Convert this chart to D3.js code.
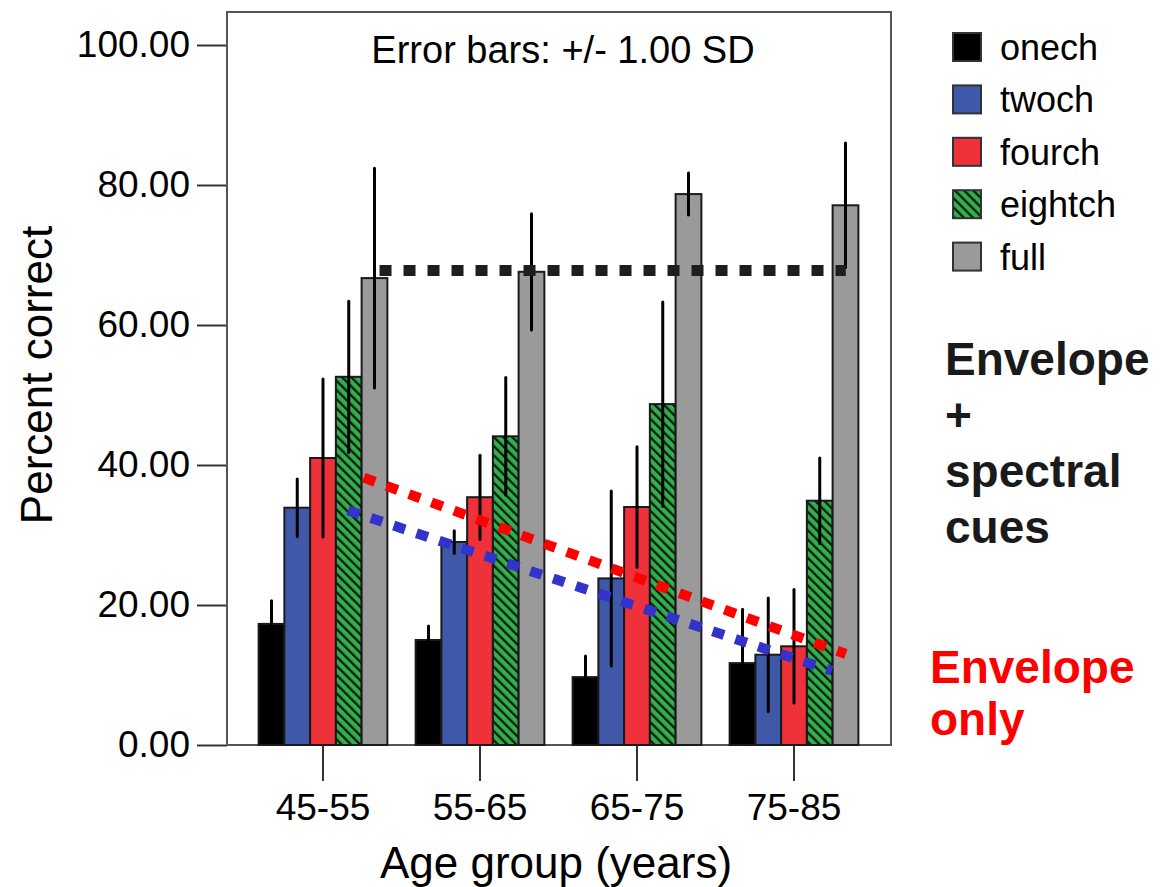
<!DOCTYPE html>
<html>
<head>
<meta charset="utf-8">
<script src="https://cdn.jsdelivr.net/npm/d3@7"></script>
<style>
  body { margin: 0; background: #fff; }
  svg text { font-family: "Liberation Sans", Arial, sans-serif; }
</style>
</head>
<body>
<div class="chart"></div>
<script>
// data
const ageGroups = ['45-55', '55-65', '65-75', '75-85']
const seriesNames = ['onech', 'twoch', 'fourch', 'eightch', 'full']

const onechMean = [17.3, 15.0, 9.7, 11.7]
const onechSD = [3.3, 2.0, 3.0, 7.7]
const twochMean = [33.9, 29.0, 23.8, 12.9]
const twochSD = [4.1, 1.6, 12.5, 8.1]
const fourchMean = [41.0, 35.4, 34.0, 14.1]
const fourchSD = [11.3, 6.0, 8.6, 8.1]
const eightchMean = [52.6, 44.1, 48.7, 34.9]
const eightchSD = [10.8, 8.4, 14.6, 6.1]
const fullMean = [66.7, 67.6, 78.7, 77.1]
const fullSD = [15.7, 8.3, 3.0, 8.9]

const yTicks = [0, 20, 40, 60, 80, 100]

// dotted guide lines, x in group units (0 = first group centre), y in percent
const fullLine = [[0.36, 67.8], [3.33, 67.8]]
const envelopeLine = [[0.26, 38.2], [3.33, 13.0]]
const spectralLine = [[0.16, 33.5], [3.24, 10.6]]

const means = [onechMean, twochMean, fourchMean, eightchMean, fullMean]
const sds = [onechSD, twochSD, fourchSD, eightchSD, fullSD]
const colors = {
    onech: '#000000',
    twoch: '#4058a8',
    fourch: '#ef323a',
    eightch: 'url(#hatch)',
    full: '#9a9a9a'
}

const bars = []
ageGroups.forEach((g, gi) => {
    seriesNames.forEach((s, si) => {
        bars.push({ group: g, series: s, mean: means[si][gi], sd: sds[si][gi] })
    })
})

const width = 1171
const height = 887
const plot = { left: 227, right: 891, top: 12, bottom: 745 }

const svg = d3.select('.chart')
    .append('svg')
    .attr('width', width)
    .attr('height', height)

const defs = svg.append('defs')
const hatch = defs.append('pattern')
    .attr('id', 'hatch')
    .attr('patternUnits', 'userSpaceOnUse')
    .attr('width', 6.5)
    .attr('height', 6.5)
    .attr('patternTransform', 'rotate(-45)')
hatch.append('rect')
    .attr('width', 6.5)
    .attr('height', 6.5)
    .attr('fill', '#2fb04a')
hatch.append('line')
    .attr('x1', 1.2).attr('y1', 0)
    .attr('x2', 1.2).attr('y2', 6.5)
    .attr('stroke', '#111')
    .attr('stroke-width', 2.2)

// scales
const yScale = d3.scaleLinear()
    .domain([0, 100])
    .range([745, 45])

const x0 = d3.scaleBand()
    .domain(ageGroups)
    .range([244.5, 872.5])
    .paddingInner(0.18)
    .paddingOuter(0.09)

const x1 = d3.scaleBand()
    .domain(seriesNames)
    .range([0, x0.bandwidth()])

const groupX = d3.scaleLinear()
    .domain([0, ageGroups.length - 1])
    .range([
        x0(ageGroups[0]) + x0.bandwidth() / 2,
        x0(ageGroups[ageGroups.length - 1]) + x0.bandwidth() / 2
    ])

// axes
const yAxis = d3.axisLeft(yScale)
    .tickValues(yTicks)
    .tickFormat(d3.format('.2f'))
    .tickSize(30)
    .tickPadding(7)

const xAxis = d3.axisBottom(x0)
    .tickSize(36)
    .tickPadding(13)

const yG = svg.append('g')
    .attr('transform', `translate(${plot.left}, 0)`)
    .call(yAxis)
const xG = svg.append('g')
    .attr('transform', `translate(0, ${plot.bottom})`)
    .call(xAxis)

svg.selectAll('.domain').remove()
svg.selectAll('.tick line')
    .attr('stroke', '#333')
    .attr('stroke-width', 2)
svg.selectAll('.tick text')
    .attr('font-size', 37)
    .attr('fill', '#000')

// frame
svg.append('rect')
    .attr('x', plot.left)
    .attr('y', plot.top)
    .attr('width', plot.right - plot.left)
    .attr('height', plot.bottom - plot.top)
    .attr('fill', 'none')
    .attr('stroke', '#555')
    .attr('stroke-width', 2)

// bars
const barG = svg.append('g')
barG.selectAll('rect')
    .data(bars)
    .enter()
    .append('rect')
    .attr('x', d => x0(d.group) + x1(d.series))
    .attr('y', d => yScale(d.mean))
    .attr('width', x1.bandwidth())
    .attr('height', d => yScale(0) - yScale(d.mean))
    .attr('fill', d => colors[d.series])
    .attr('stroke', '#1a1a1a')
    .attr('stroke-width', 2)

// error bars
barG.selectAll('line')
    .data(bars)
    .enter()
    .append('line')
    .attr('x1', d => x0(d.group) + x1(d.series) + x1.bandwidth() / 2)
    .attr('x2', d => x0(d.group) + x1(d.series) + x1.bandwidth() / 2)
    .attr('y1', d => yScale(d.mean + d.sd))
    .attr('y2', d => yScale(Math.max(0, d.mean - d.sd)))
    .attr('stroke', '#000')
    .attr('stroke-width', 3)
    .attr('stroke-linecap', 'round')

// dotted guides
const guide = d3.line()
    .x(d => groupX(d[0]))
    .y(d => yScale(d[1]))

const guides = [
    { pts: fullLine, color: '#1e1e1e', w: 11 },
    { pts: envelopeLine, color: '#ff0000', w: 10 },
    { pts: spectralLine, color: '#3333cc', w: 10 }
]
svg.append('g')
    .selectAll('path')
    .data(guides)
    .enter()
    .append('path')
    .attr('d', d => guide(d.pts))
    .attr('fill', 'none')
    .attr('stroke', d => d.color)
    .attr('stroke-width', d => d.w)
    .attr('stroke-dasharray', '12,12')

// title inside plot
svg.append('text')
    .text('Error bars: +/- 1.00 SD')
    .attr('x', 563)
    .attr('y', 63)
    .attr('text-anchor', 'middle')
    .attr('font-size', 38)

// axis titles
svg.append('text')
    .text('Age group (years)')
    .attr('x', 556)
    .attr('y', 878)
    .attr('text-anchor', 'middle')
    .attr('font-size', 44)

svg.append('text')
    .text('Percent correct')
    .attr('transform', 'translate(52, 375) rotate(-90)')
    .attr('text-anchor', 'middle')
    .attr('font-size', 44)

// legend
const legend = svg.append('g').attr('id', 'legend')
const legendItems = legend.selectAll('g')
    .data(seriesNames)
    .enter()
    .append('g')
    .attr('transform', (d, i) => `translate(953, ${33 + i * 52.4})`)
legendItems.append('rect')
    .attr('width', 28)
    .attr('height', 28)
    .attr('fill', d => colors[d])
    .attr('stroke', '#333')
    .attr('stroke-width', 2)
legendItems.append('text')
    .text(d => d)
    .attr('x', 47)
    .attr('y', 27)
    .attr('font-size', 36)

// annotations
const cueLines = ['Envelope', '+', 'spectral', 'cues']
svg.append('g')
    .selectAll('text')
    .data(cueLines)
    .enter()
    .append('text')
    .text(d => d)
    .attr('x', 945)
    .attr('y', (d, i) => 375 + i * 56)
    .attr('font-size', 46)
    .attr('font-weight', 'bold')
    .attr('fill', '#1a1a1a')

const envLines = ['Envelope', 'only']
svg.append('g')
    .selectAll('text')
    .data(envLines)
    .enter()
    .append('text')
    .text(d => d)
    .attr('x', 930)
    .attr('y', (d, i) => 683 + i * 52)
    .attr('font-size', 46)
    .attr('font-weight', 'bold')
    .attr('fill', '#ff0000')
</script>
</body>
</html>
